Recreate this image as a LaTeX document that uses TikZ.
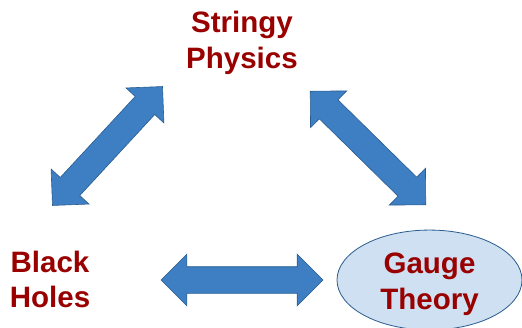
\documentclass[tikz,border=0pt]{standalone}
\usepackage{fontspec}
\setmainfont{Liberation Sans}
\usepackage{xcolor}
\definecolor{lblRed}{HTML}{990000}
\definecolor{arrBlue}{HTML}{3D7FC2}
\definecolor{arrEdge}{HTML}{2A5C8F}
\definecolor{ovalFill}{HTML}{CFE0F2}
\definecolor{ovalEdge}{HTML}{2A5C8F}
\usepackage{tikz}
\usetikzlibrary{shapes.geometric, shapes.arrows, calc}

\begin{document}
\begin{tikzpicture}[
    x=1pt, y=1pt,
    lbl/.style={align=center, inner sep=0pt, text=lblRed, font=\fontsize{29.5}{35.5}\selectfont\bfseries},
    ovalbox/.style={ellipse, draw=ovalEdge, fill=ovalFill, line width=0.8pt, minimum width=185pt, minimum height=94pt, inner sep=0pt},
    linkarrow/.style={double arrow, draw=arrEdge, fill=arrBlue, line width=0.6pt, double arrow head extend=12.5pt, double arrow tip angle=90, minimum width=51pt, minimum height=162pt, inner xsep=0pt, inner ysep=13pt, sloped, midway}
]
\useasboundingbox (0,0) rectangle (522,327);

\node (stringy) [lbl] at (242,284.2) {Stringy\\Physics};
\node (black_holes) [lbl] at (50,47.3) {Black\\Holes};
\node (gauge) [ovalbox, lbl] at (429.5,47) {\rule{0pt}{29pt}Gauge\\Theory};

% tips of the three block arrows
\coordinate (bh_up) at (52,121);
\coordinate (sp_left) at (163,241);
\coordinate (sp_right) at (310,236);
\coordinate (gt_up) at (426,122);
\coordinate (bh_right) at (161,47);
\coordinate (gt_left) at (323,47);

\path (bh_up) -- node[linkarrow] {} (sp_left);
\path (sp_right) -- node[linkarrow] {} (gt_up);
\path (bh_right) -- node[linkarrow] {} (gt_left);

\end{tikzpicture}
\end{document}
